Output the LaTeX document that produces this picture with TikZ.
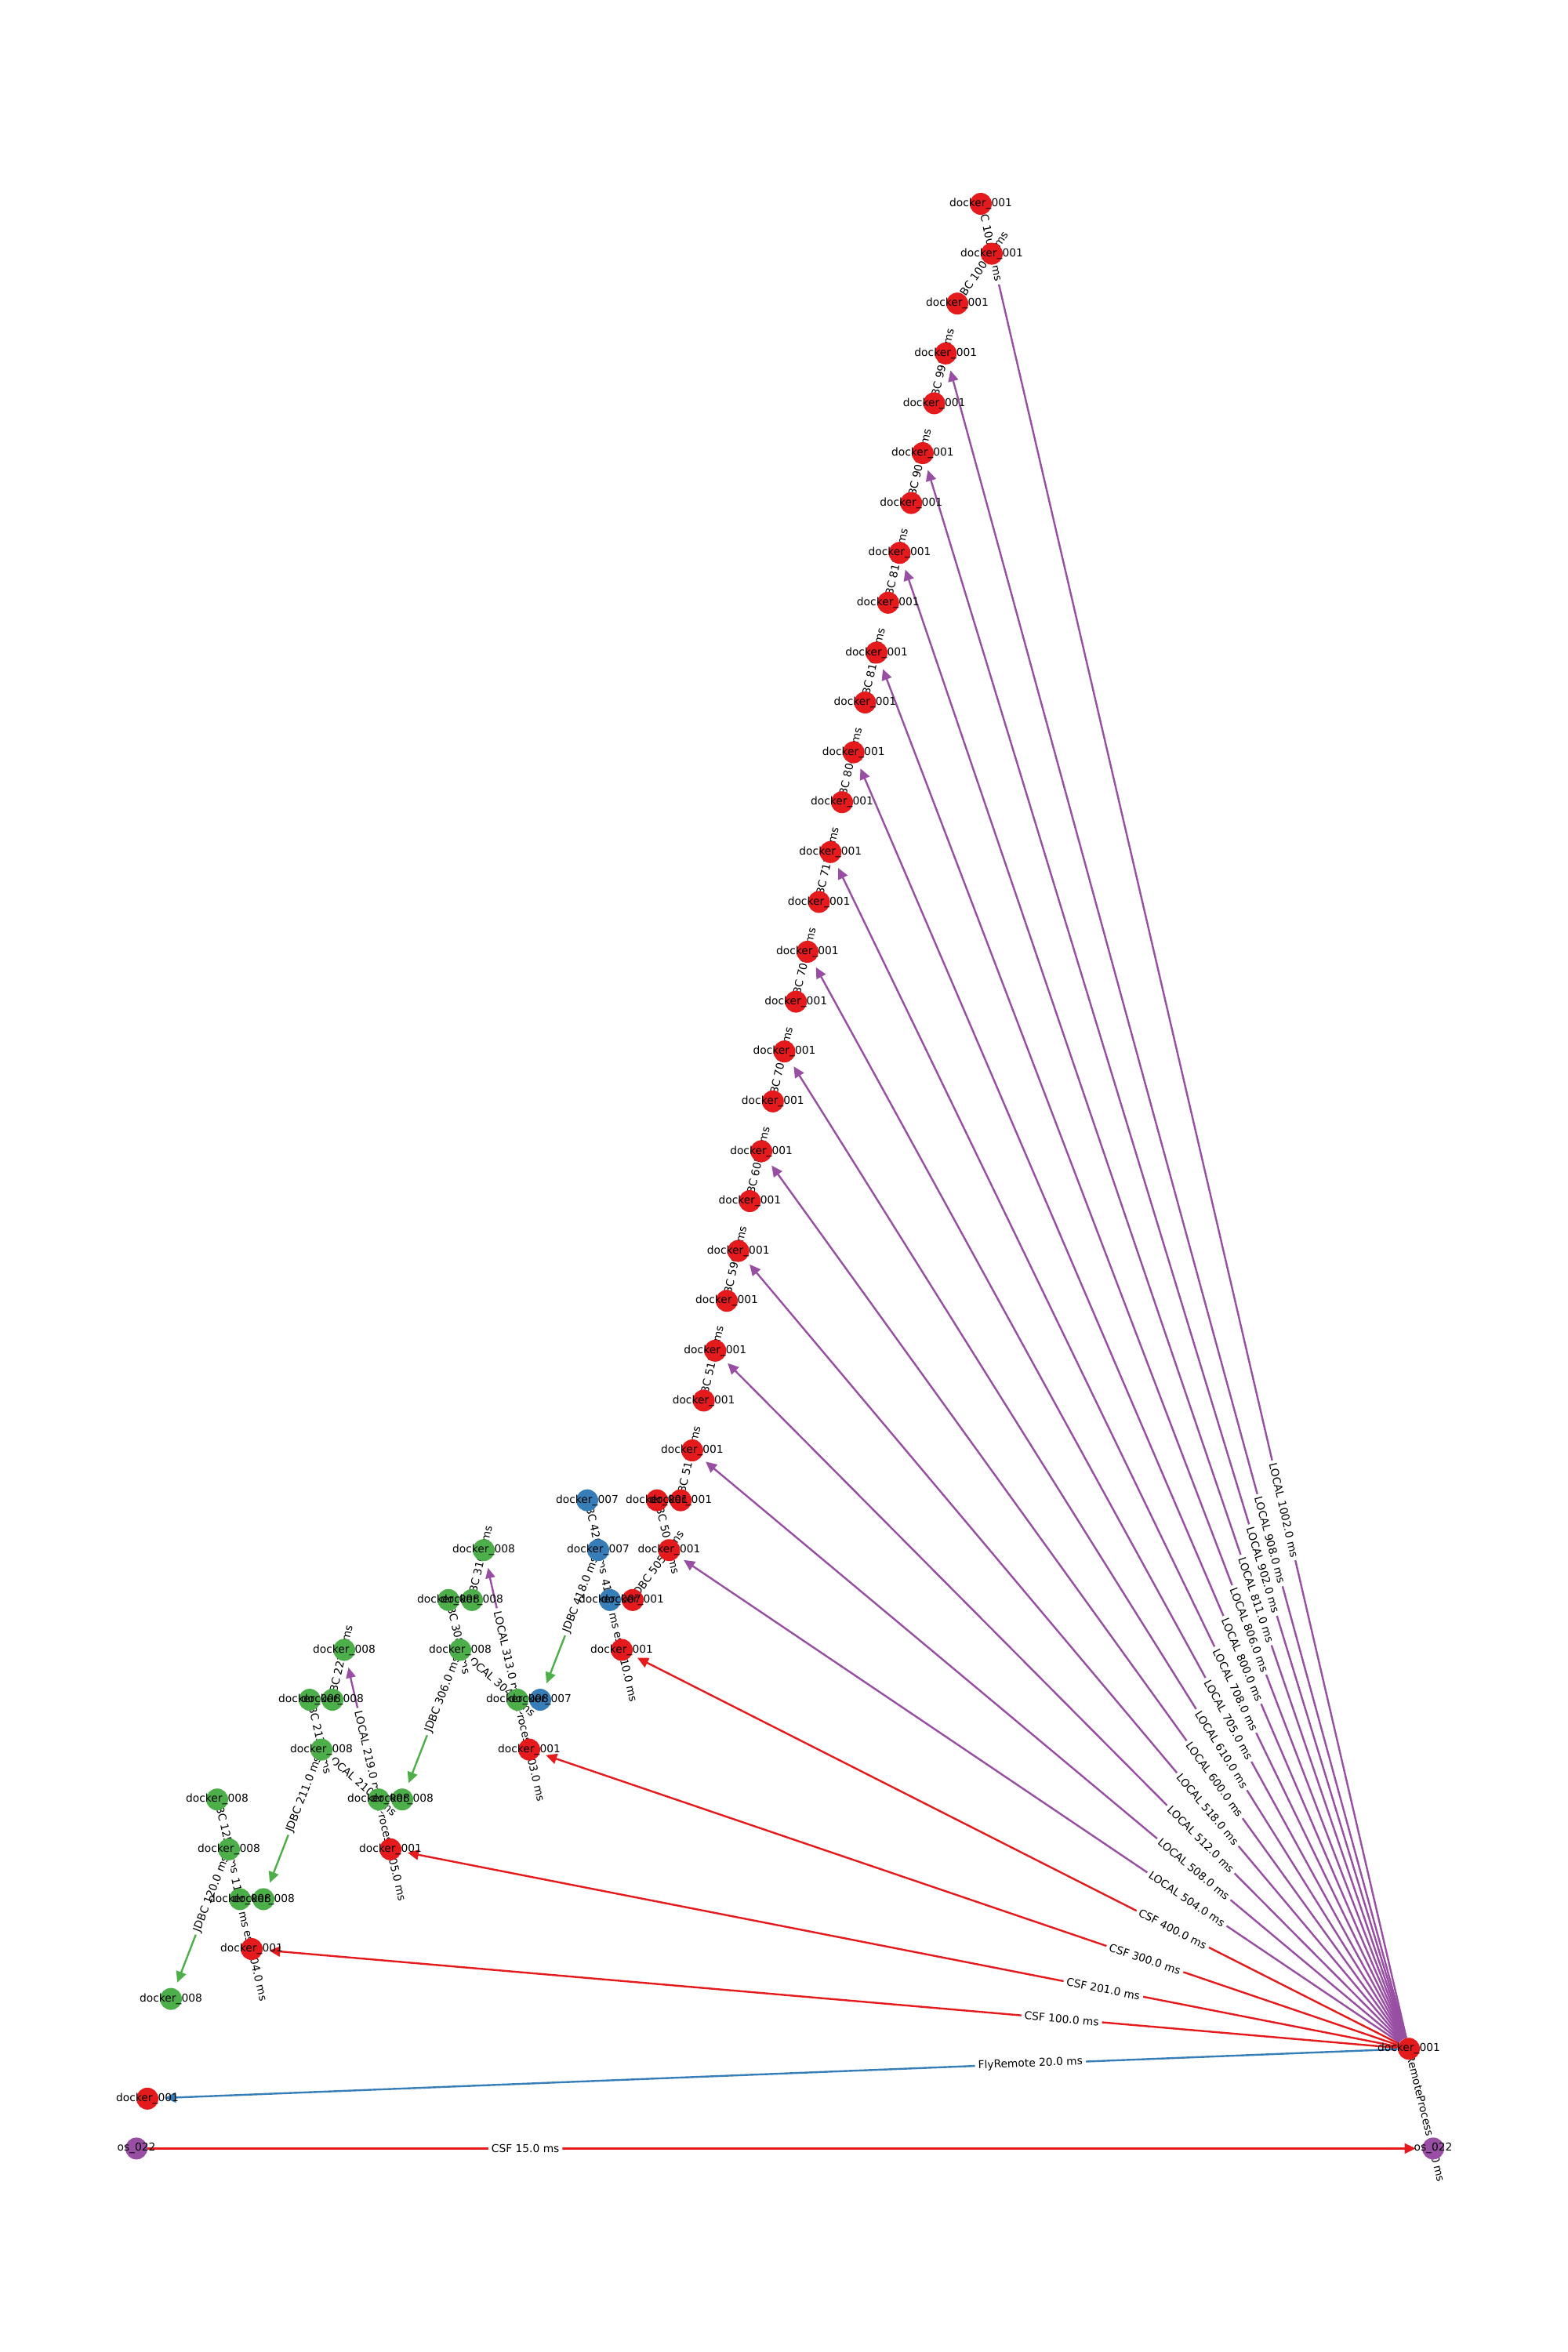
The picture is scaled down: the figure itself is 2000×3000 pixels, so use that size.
\documentclass[tikz,border=0pt]{standalone}
\usepackage{fontspec}
\setmainfont{DejaVu Sans}
\usetikzlibrary{arrows.meta}
\definecolor{cred}{HTML}{E41A1C}
\definecolor{cblue}{HTML}{377EB8}
\definecolor{cgreen}{HTML}{4DAF4A}
\definecolor{cpurple}{HTML}{984EA3}
\definecolor{corange}{HTML}{FF7F00}
\pgfdeclarelayer{edgelayer}
\pgfdeclarelayer{labellayer}
\pgfdeclarelayer{disclayer}
\pgfsetlayers{edgelayer,labellayer,disclayer,main}
\tikzset{
  disc/.style={circle, minimum size=14pt, inner sep=0pt, draw=none},
  rd/.style={disc, fill=cred},
  bd/.style={disc, fill=cblue},
  gd/.style={disc, fill=cgreen},
  pd/.style={disc, fill=cpurple},
  ntext/.style={font=\fontsize{6.9pt}{8pt}\selectfont, inner sep=0pt, text=black},
  conn/.style={line width=1.2pt, -{Triangle[length=7pt,width=6.5pt]}, shorten >=4pt},
  localedge/.style={conn, draw=cpurple},
  csfedge/.style={conn, draw=cred},
  flyedge/.style={conn, draw=cblue},
  jdbcedge/.style={conn, draw=cgreen},
  rpedge/.style={conn, draw=corange},
  elab/.style={font=\fontsize{6.9pt}{8pt}\selectfont, fill=white, inner sep=2pt, rounded corners=2pt, sloped, pos=0.3, text=black},
}
\newcommand\myedge[4]{%
  \begin{pgfonlayer}{edgelayer}\draw[#1] (#2) -- (#3);\end{pgfonlayer}%
  \begin{pgfonlayer}{labellayer}\path (#2.center) -- (#3.center) node[elab] {#4};\end{pgfonlayer}}
\begin{document}
\begin{tikzpicture}[x=0.5pt, y=-0.5pt]
\useasboundingbox (0,0) rectangle (2000,3000);
\begin{pgfonlayer}{disclayer}
  % main column
  \node[rd] (c0) at (1251,260) {};
  \node[rd] (c1) at (1265,323.6) {};
  \foreach \k in {2,...,25} \node[rd] (c\k) at ({1221-14.7*(\k-2)},{260+63.6*\k}) {};
  \node[rd] (c26l) at (838,1913.6) {};
  \node[rd] (c26r) at (868.2,1913.6) {};
  \node[rd] (c27) at (853.5,1977.2) {};
  \node[rd] (c28r) at (807,2040.8) {};
  % cluster 400
  \node[bd] (b26) at (749,1913.6) {};
  \node[bd] (b27) at (763,1977.2) {};
  \node[bd] (b28) at (778,2040.8) {};
  \node[rd] (r29) at (793,2104.4) {};
  \node[bd] (b30) at (689,2168) {};
  % cluster 300
  \node[gd] (g27) at (617,1977.2) {};
  \node[gd] (g28l) at (572,2040.8) {};
  \node[gd] (g28r) at (602,2040.8) {};
  \node[gd] (g29) at (587,2104.4) {};
  \node[gd] (g30) at (660,2168) {};
  \node[rd] (r31) at (675,2231.6) {};
  % cluster 201
  \node[gd] (h29) at (439,2104.4) {};
  \node[gd] (h30l) at (395,2168) {};
  \node[gd] (h30r) at (424,2168) {};
  \node[gd] (h31) at (410,2231.6) {};
  \node[gd] (g32l) at (483,2295.2) {};
  \node[gd] (g32r) at (513,2295.2) {};
  \node[rd] (r33) at (498,2358.8) {};
  % cluster 100
  \node[gd] (k32) at (277,2295.2) {};
  \node[gd] (k33) at (292,2358.8) {};
  \node[gd] (k34l) at (306,2422.4) {};
  \node[gd] (k34r) at (336,2422.4) {};
  \node[rd] (r35) at (321,2486) {};
  \node[gd] (k36) at (218,2549.6) {};
  % bottom
  \node[rd] (hub) at (1797,2613.2) {};
  \node[rd] (r38) at (188,2676.8) {};
  \node[pd] (osl) at (174,2740.4) {};
  \node[pd] (osr) at (1828,2740.4) {};
\end{pgfonlayer}
% LOCAL edges from the hub
\myedge{localedge}{hub}{c1}{LOCAL 1002.0 ms}
\myedge{localedge}{hub}{c3}{LOCAL 908.0 ms}
\myedge{localedge}{hub}{c5}{LOCAL 902.0 ms}
\myedge{localedge}{hub}{c7}{LOCAL 811.0 ms}
\myedge{localedge}{hub}{c9}{LOCAL 806.0 ms}
\myedge{localedge}{hub}{c11}{LOCAL 800.0 ms}
\myedge{localedge}{hub}{c13}{LOCAL 708.0 ms}
\myedge{localedge}{hub}{c15}{LOCAL 705.0 ms}
\myedge{localedge}{hub}{c17}{LOCAL 610.0 ms}
\myedge{localedge}{hub}{c19}{LOCAL 600.0 ms}
\myedge{localedge}{hub}{c21}{LOCAL 518.0 ms}
\myedge{localedge}{hub}{c23}{LOCAL 512.0 ms}
\myedge{localedge}{hub}{c25}{LOCAL 508.0 ms}
\myedge{localedge}{hub}{c27}{LOCAL 504.0 ms}
% JDBC edges in the column
\myedge{jdbcedge}{c1}{c0}{JDBC 1009.0 ms}
\myedge{jdbcedge}{c1}{c2}{JDBC 1007.0 ms}
\myedge{jdbcedge}{c3}{c4}{JDBC 995.0 ms}
\myedge{jdbcedge}{c5}{c6}{JDBC 905.0 ms}
\myedge{jdbcedge}{c7}{c8}{JDBC 815.0 ms}
\myedge{jdbcedge}{c9}{c10}{JDBC 810.0 ms}
\myedge{jdbcedge}{c11}{c12}{JDBC 804.0 ms}
\myedge{jdbcedge}{c13}{c14}{JDBC 712.0 ms}
\myedge{jdbcedge}{c15}{c16}{JDBC 709.0 ms}
\myedge{jdbcedge}{c17}{c18}{JDBC 701.0 ms}
\myedge{jdbcedge}{c19}{c20}{JDBC 605.0 ms}
\myedge{jdbcedge}{c21}{c22}{JDBC 599.0 ms}
\myedge{jdbcedge}{c23}{c24}{JDBC 515.0 ms}
\myedge{jdbcedge}{c25}{c26r}{JDBC 511.0 ms}
\myedge{jdbcedge}{c27}{c26l}{JDBC 507.0 ms}
\myedge{jdbcedge}{c27}{c28r}{JDBC 505.0 ms}
% cluster 400
\myedge{csfedge}{hub}{r29}{CSF 400.0 ms}
\myedge{rpedge}{r29}{b28}{RemoteProcess 410.0 ms}
\myedge{localedge}{b28}{b27}{LOCAL 412.0 ms}
\myedge{jdbcedge}{b27}{b26}{JDBC 420.0 ms}
\myedge{jdbcedge}{b27}{b30}{JDBC 418.0 ms}
% cluster 300
\myedge{csfedge}{hub}{r31}{CSF 300.0 ms}
\myedge{rpedge}{r31}{g30}{RemoteProcess 303.0 ms}
\myedge{localedge}{g30}{g27}{LOCAL 313.0 ms}
\myedge{localedge}{g30}{g29}{LOCAL 304.0 ms}
\myedge{jdbcedge}{g27}{g28r}{JDBC 316.0 ms}
\myedge{jdbcedge}{g29}{g28l}{JDBC 308.0 ms}
\myedge{jdbcedge}{g29}{g32r}{JDBC 306.0 ms}
% cluster 201
\myedge{csfedge}{hub}{r33}{CSF 201.0 ms}
\myedge{rpedge}{r33}{g32l}{RemoteProcess 205.0 ms}
\myedge{localedge}{g32l}{h29}{LOCAL 219.0 ms}
\myedge{localedge}{g32l}{h31}{LOCAL 210.0 ms}
\myedge{jdbcedge}{h29}{h30r}{JDBC 221.0 ms}
\myedge{jdbcedge}{h31}{h30l}{JDBC 213.0 ms}
\myedge{jdbcedge}{h31}{k34r}{JDBC 211.0 ms}
% cluster 100
\myedge{csfedge}{hub}{r35}{CSF 100.0 ms}
\myedge{rpedge}{r35}{k34l}{RemoteProcess 104.0 ms}
\myedge{localedge}{k34l}{k33}{LOCAL 110.0 ms}
\myedge{jdbcedge}{k33}{k32}{JDBC 125.0 ms}
\myedge{jdbcedge}{k33}{k36}{JDBC 120.0 ms}
% bottom
\myedge{flyedge}{hub}{r38}{FlyRemote 20.0 ms}
\myedge{csfedge}{osl}{osr}{CSF 15.0 ms}
\myedge{rpedge}{osr}{hub}{RemoteProcess 10.0 ms}
% node texts
\foreach \k in {0,...,25} \node[ntext] at (c\k) {docker\_001};
\foreach \n in {c26l,c26r,c27,c28r,r29,r31,r33,r35,hub,r38} \node[ntext] at (\n) {docker\_001};
\foreach \n in {b26,b27,b28,b30} \node[ntext] at (\n) {docker\_007};
\foreach \n in {g27,g28l,g28r,g29,g30,h29,h30l,h30r,h31,g32l,g32r,k32,k33,k34l,k34r,k36} \node[ntext] at (\n) {docker\_008};
\foreach \n in {osl,osr} \node[ntext] at (\n) {os\_022};
\end{tikzpicture}
\end{document}
